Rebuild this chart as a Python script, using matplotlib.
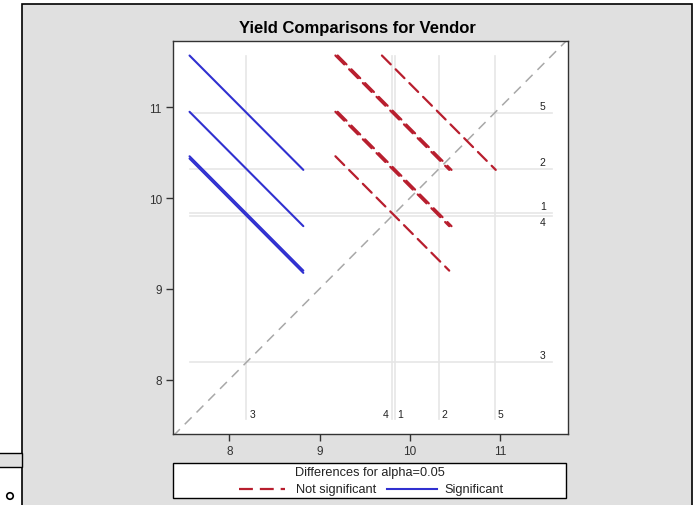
import matplotlib
matplotlib.use("Agg")
import matplotlib.pyplot as plt
from matplotlib.patches import Rectangle, Ellipse
from matplotlib.lines import Line2D

plt.rcParams['font.family'] = ['Liberation Sans', 'DejaVu Sans']
plt.rcParams['lines.scale_dashes'] = False

# ---- data ----
vendors = ['1', '2', '3', '4', '5']
means = [9.83, 10.32, 8.19, 9.805, 10.94]
# pairs: (x vendor = lower mean, y vendor = higher mean)
pair_x = ['3', '3', '3', '3', '4', '1', '2', '4', '1', '4']
pair_y = ['5', '2', '1', '4', '5', '5', '5', '2', '2', '1']
ci_half = [1.26] * 10          # half-width of CI for the difference
alpha_text = "Differences for alpha=0.05"

W, H = 694, 506
fig = plt.figure(figsize=(W / 100, H / 100), dpi=100)
fig.patch.set_facecolor('white')

def fx(px):
    return px / W

def fy(py):
    return 1 - py / H

# gray graph background with border
bg = Rectangle((fx(22), -0.01), fx(692) - fx(22), fy(5) + 0.01, transform=fig.transFigure,
               facecolor='#E0E0E0', edgecolor='black', linewidth=1.2, zorder=-10)
fig.patches.append(bg)
# left screenshot artefact
band = Rectangle((-0.01, fy(468)), fx(22) + 0.01, fy(454) - fy(468), transform=fig.transFigure,
                 facecolor='#E0E0E0', edgecolor='black', linewidth=1.0, zorder=-10)
fig.patches.append(band)
fig.patches.append(Ellipse((fx(10), fy(497)), 6.5 / W, 6.5 / H, transform=fig.transFigure,
                           facecolor='white', edgecolor='black', linewidth=1.2, zorder=-5))

ax = fig.add_axes([fx(173), fy(435), fx(568) - fx(173), fy(42) - fy(435)])
ax.set_facecolor('white')
xlo, xhi = 7.377, 11.75
ylo, yhi = 7.40, 11.73
ax.set_xlim(xlo, xhi)
ax.set_ylim(ylo, yhi)

mdict = dict(zip(vendors, means))
h_ext = ci_half[0] / 2
rmin = min(means) - h_ext
rmax = max(means) + h_ext

# reference lines
for v, m in zip(vendors, means):
    ax.plot([m, m], [rmin, rmax], color='#E6E6E6', lw=1.2, zorder=1)
    ax.plot([rmin, rmax], [m, m], color='#E6E6E6', lw=1.2, zorder=1)

# diagonal
ax.plot([xlo, xhi], [xlo, xhi], color='#A8A8A8', lw=1.1, dashes=(7, 5), zorder=2)

blue = '#3030D0'
red = '#B81E2E'
for a, b, c in zip(pair_x, pair_y, ci_half):
    x0, y0 = mdict[a], mdict[b]
    h = c / 2
    sig = abs(y0 - x0) > c
    xs = [x0 - h, x0 + h]
    ys = [y0 + h, y0 - h]
    if sig:
        ax.plot(xs, ys, color=blue, lw=1.5, solid_capstyle='round', zorder=3)
    else:
        ax.plot(xs, ys, color=red, lw=1.6, dashes=(9, 5), dash_capstyle='round', zorder=3)

# labels for reference lines
lab_y = 7.62
lab_x = 11.47
for v, m in zip(vendors, means):
    if v == '4':
        ax.annotate(v, (m, lab_y), xytext=(-3, 0), textcoords='offset points',
                    ha='right', va='center', fontsize=7.5, color='#222222')
        ax.annotate(v, (lab_x, m), xytext=(0, -1), textcoords='offset points',
                    ha='center', va='top', fontsize=7.5, color='#222222')
    else:
        ax.annotate(v, (m, lab_y), xytext=(2, 0), textcoords='offset points',
                    ha='left', va='center', fontsize=7.5, color='#222222')
        ax.annotate(v, (lab_x, m), xytext=(0, 1.5), textcoords='offset points',
                    ha='center', va='bottom', fontsize=7.5, color='#222222')

ax.set_xticks([8, 9, 10, 11])
ax.set_yticks([8, 9, 10, 11])
ax.tick_params(direction='out', length=5, width=1, colors='#333333',
               labelsize=8.5, labelcolor='#333333', pad=3)
for s in ax.spines.values():
    s.set_color('#333333')
    s.set_linewidth(1.0)

fig.text(fx(357), fy(28), "Yield Comparisons for Vendor", ha='center', va='center',
         fontsize=12, fontweight='bold', color='black')

# legend box
lg = Rectangle((fx(173), fy(499)), fx(566) - fx(173), fy(464) - fy(499),
               transform=fig.transFigure, facecolor='white', edgecolor='black',
               linewidth=1.0, zorder=1)
fig.patches.append(lg)
fig.text(fx(370), fy(473), alpha_text, ha='center', va='center', fontsize=9.2,
         color='#222222')
fig.lines.append(Line2D([fx(239), fx(285)], [fy(490), fy(490)], transform=fig.transFigure,
                        color=red, lw=1.6, dashes=(10, 5)))
fig.text(fx(296), fy(490), "Not significant", ha='left', va='center', fontsize=9.2,
         color='#222222')
fig.lines.append(Line2D([fx(387), fx(437)], [fy(490), fy(490)], transform=fig.transFigure,
                        color=blue, lw=1.5))
fig.text(fx(444), fy(490), "Significant", ha='left', va='center', fontsize=9.2,
         color='#222222')

fig.savefig('out.png', dpi=100)
